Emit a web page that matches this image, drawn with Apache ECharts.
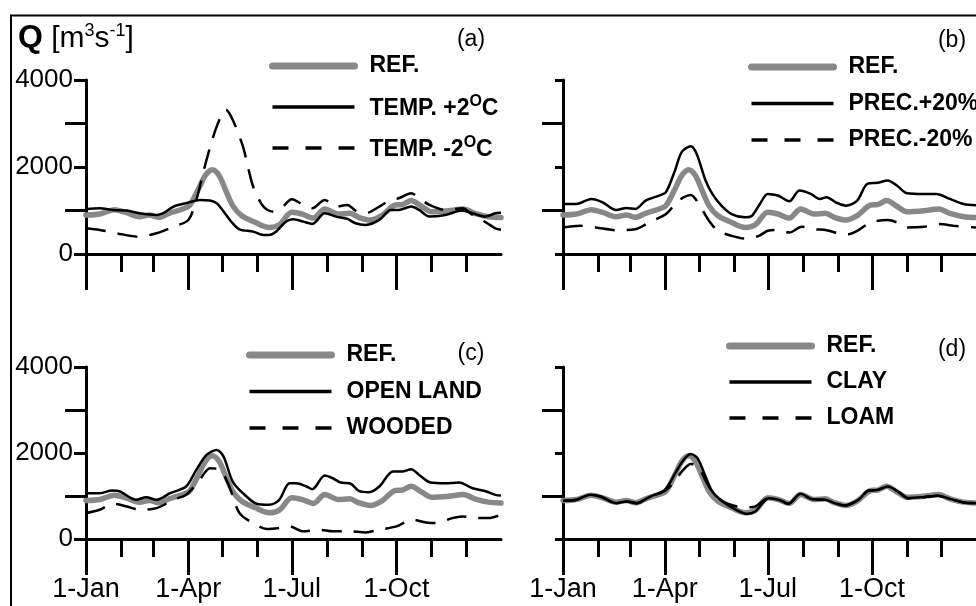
<!DOCTYPE html>
<html><head><meta charset="utf-8">
<script src="https://cdn.jsdelivr.net/npm/echarts@6/dist/echarts.min.js"></script>
<style>html,body{margin:0;padding:0;background:#fff}#c{width:976px;height:606px}</style>
</head><body><div id="c"></div>
<script>
// ---- axis ticks / labels ----
const monthDays = [0,31,59,90,120,151,181,212,243,273,304,334];
const quarterDays = [0,90,181,273];
const quarterLabels = ['1-Jan','1-Apr','1-Jul','1-Oct'];
const yMinorTicks = [1000,3000];
const panelLabels = ['(a)','(b)','(c)','(d)'];

// ---- series [day of year, Q m3/s] ----
const refQ = [[0,896],[12,919],[25,1019],[35,957],[47,857],[56,896],[64,842],[73,934],[85,1035],[91,1112],[99,1498],[105,1807],[111,1938],[117,1807],[123,1459],[129,1112],[137,880],[149,726],[161,610],[170,672],[181,957],[190,919],[200,826],[210,1035],[222,919],[232,934],[240,842],[250,780],[260,880],[272,1127],[278,1135],[286,1228],[295,1097],[304,973],[319,996],[332,1035],[342,934],[354,857],[365,840]];
const tempPlus2 = [[0,1029],[12,1052],[24,1013],[36,998],[47,937],[62,898],[68,937],[77,1090],[88,1167],[100,1244],[109,1228],[115,1167],[120,1013],[129,706],[135,568],[147,514],[156,438],[161,438],[167,514],[176,745],[182,798],[191,745],[199,691],[210,937],[220,860],[230,806],[237,706],[246,668],[258,783],[268,1013],[275,1013],[286,1090],[293,1013],[302,860],[316,898],[331,998],[340,937],[351,860],[360,937],[365,950]];
const tempMinus2 = [[0,591],[12,553],[27,476],[46,399],[62,476],[77,630],[90,783],[97,1244],[106,2165],[115,2933],[123,3317],[129,3086],[138,2472],[147,1551],[156,1090],[164,975],[173,1090],[181,1259],[191,1129],[199,1052],[210,1244],[220,1090],[230,1129],[237,998],[246,937],[258,1090],[268,1244],[275,1282],[286,1397],[293,1282],[302,1129],[316,1013],[331,1052],[340,898],[352,722],[360,591],[365,560]];
const precPlus20 = [[0,1150],[12,1150],[25,1266],[35,1189],[47,1012],[56,1058],[64,1035],[73,1228],[85,1344],[91,1421],[99,1923],[105,2347],[113,2479],[118,2309],[126,1691],[132,1382],[140,1112],[149,919],[161,842],[167,880],[174,1150],[181,1382],[190,1344],[200,1212],[209,1459],[219,1382],[227,1266],[233,1305],[241,1189],[250,1112],[260,1228],[269,1614],[278,1637],[287,1691],[295,1575],[304,1398],[319,1382],[330,1382],[342,1266],[354,1150],[365,1120]];
const precMinus20 = [[0,610],[15,649],[29,610],[47,548],[64,571],[76,726],[91,919],[102,1228],[113,1359],[120,1151],[129,764],[137,533],[149,417],[161,355],[173,417],[181,533],[190,556],[200,494],[211,625],[222,571],[233,548],[243,479],[252,456],[260,533],[272,726],[287,780],[295,726],[304,610],[319,625],[333,687],[345,649],[365,610]];
const openLand = [[0,1066],[12,1066],[23,1127],[30,1104],[44,911],[53,973],[62,911],[74,1066],[88,1220],[97,1606],[106,1954],[115,2069],[121,1915],[129,1336],[138,1066],[150,819],[161,795],[170,911],[179,1297],[185,1297],[194,1220],[199,1158],[210,1475],[217,1413],[224,1313],[232,1297],[240,1120],[249,1089],[258,1220],[270,1568],[278,1568],[286,1622],[293,1490],[303,1313],[316,1297],[328,1313],[340,1181],[352,1104],[360,1027],[365,1010]];
const wooded = [[0,602],[12,680],[24,819],[36,757],[47,680],[62,718],[77,911],[88,1027],[100,1375],[109,1645],[118,1606],[126,1220],[135,602],[147,371],[159,232],[170,255],[179,293],[191,178],[205,216],[217,178],[232,178],[246,154],[258,216],[273,293],[287,448],[299,386],[308,371],[322,486],[331,525],[343,486],[354,486],[365,564]];
const clay = [[0,888],[12,911],[24,1027],[33,988],[47,834],[56,873],[65,834],[77,988],[90,1143],[100,1568],[107,1853],[113,1977],[119,1876],[126,1452],[132,1104],[141,873],[153,680],[163,587],[170,641],[182,950],[191,911],[199,819],[210,1050],[220,927],[232,911],[240,834],[249,780],[261,911],[270,1127],[278,1143],[287,1220],[296,1104],[305,950],[319,973],[331,1004],[343,927],[354,849],[365,834]];
const loam = [[0,888],[12,911],[24,1027],[33,988],[47,834],[56,873],[65,834],[77,988],[90,1120],[98,1320],[106,1600],[113,1745],[119,1700],[126,1360],[132,1100],[141,880],[153,760],[163,740],[170,760],[182,950],[191,911],[199,819],[210,1050],[220,927],[232,911],[240,834],[249,780],[261,911],[270,1127],[278,1143],[287,1220],[296,1104],[305,950],[319,973],[331,1004],[343,927],[354,849],[365,834]];

const panels = [
  {names:['TEMP. +2°C','TEMP. -2°C'], data:[tempPlus2,tempMinus2]},
  {names:['PREC.+20%','PREC.-20%'], data:[precPlus20,precMinus20]},
  {names:['OPEN LAND','WOODED'], data:[openLand,wooded]},
  {names:['CLAY','LOAM'], data:[clay,loam]}
];

const FF = 'Arial, "Liberation Sans", sans-serif';
const grids = [
  {left:86, top:80, width:415, height:174},
  {left:563, top:80, width:415, height:174},
  {left:86, top:367, width:415, height:172},
  {left:563, top:367, width:415, height:172}
];
const legendPos = [
  {left:269, top:53, gap:15},
  {left:748, top:54, gap:10.5},
  {left:246, top:342, gap:10.5},
  {left:726, top:333, gap:10}
];
const labelPos = [[471,40],[952,41],[471,354],[952,350]];

const axLine = {color:'#000', width:3};
const xAxis = [], yAxis = [], series = [], legend = [], graphic = [];

graphic.push({type:'rect', silent:true, z:-10, shape:{x:11,y:15.5,width:1200,height:900}, style:{fill:'none', stroke:'#000', lineWidth:2}});
graphic.push({type:'text', left:18, top:22, silent:true, style:{
  text:'{q|Q}{g| }{n|[m}{s|3}{n|s}{s|-1}{n|]}',
  rich:{
    q:{fontFamily:FF, fontSize:32, fontWeight:'bold', fill:'#000', verticalAlign:'bottom'},
    g:{fontFamily:FF, fontSize:30, fill:'#000', verticalAlign:'bottom'},
    n:{fontFamily:FF, fontSize:30, fill:'#000', verticalAlign:'bottom'},
    s:{fontFamily:FF, fontSize:18, fill:'#000', verticalAlign:'top'}
  }}});

grids.forEach((g, i) => {
  const bottomRow = i >= 2, leftCol = (i % 2) === 0;
  xAxis.push({type:'value', gridIndex:i, min:0, max:365, position:'bottom',
    axisLine:{show:true, onZero:false, lineStyle:axLine},
    axisTick:{show:true, customValues:monthDays, length:18, lineStyle:axLine},
    axisLabel:{show:bottomRow, customValues:quarterDays, margin:37, fontSize:27, fontFamily:FF, color:'#000',
      formatter:v => quarterLabels[quarterDays.indexOf(v)] || ''},
    splitLine:{show:false}});
  xAxis.push({type:'value', gridIndex:i, min:0, max:365, position:'bottom',
    axisLine:{show:false, onZero:false},
    axisTick:{show:true, customValues:quarterDays, length:36, lineStyle:axLine},
    axisLabel:{show:false}, splitLine:{show:false}});
  yAxis.push({type:'value', gridIndex:i, min:0, max:4000, interval:2000, position:'left',
    axisLine:{show:true, onZero:false, lineStyle:axLine},
    axisTick:{show:true, length: leftCol ? 12 : 8, lineStyle:axLine},
    axisLabel:{show:leftCol, margin:13, fontSize:26, fontFamily:FF, color:'#000', formatter:v => String(v)},
    splitLine:{show:false}});
  yAxis.push({type:'value', gridIndex:i, min:0, max:4000, position:'left',
    axisLine:{show:false, onZero:false},
    axisTick:{show:true, customValues:yMinorTicks, length:21, lineStyle:axLine},
    axisLabel:{show:false}, splitLine:{show:false}});

  const p = panels[i];
  const common = {type:'line', xAxisIndex:2*i, yAxisIndex:2*i, symbol:'none', showSymbol:false, smooth:0.3, silent:true};
  series.push(Object.assign({}, common, {name:'REF.', data:refQ, z:2,
    itemStyle:{color:'#888888'}, lineStyle:{color:'#888888', width:5.5, cap:'round', join:'round'}}));
  series.push(Object.assign({}, common, {name:p.names[0], data:p.data[0], z:3,
    itemStyle:{color:'#000'}, lineStyle:{color:'#000', width:2.5}}));
  series.push(Object.assign({}, common, {name:p.names[1], data:p.data[1], z:3,
    itemStyle:{color:'#000'}, lineStyle:{color:'#000', width:2.5, type:[20,12]}}));

  const lp = legendPos[i];
  legend.push({orient:'vertical', left:lp.left, top:lp.top, padding:0, itemWidth:82, itemHeight:30, itemGap:lp.gap,
    selectedMode:false, itemStyle:{opacity:0},
    textStyle:{fontFamily:FF, fontSize:23, fontWeight:'bold', color:'#000', lineHeight:26, padding:[0,0,0,10],
      rich:{s:{fontFamily:FF, fontSize:16, fontWeight:'bold', color:'#000', lineHeight:16, verticalAlign:'top'},
            b:{fontFamily:FF, fontSize:23, fontWeight:'bold', color:'#000', lineHeight:26, verticalAlign:'bottom'}}},
    formatter:n => n.indexOf('°C') >= 0 ? '{b|' + n.replace('°C','') + '}{s|O}{b|C}' : n,
    data:[
      {name:'REF.', lineStyle:{width:7, cap:'round', color:'#888888'}},
      {name:p.names[0], lineStyle:{width:3.5, color:'#000'}},
      {name:p.names[1], lineStyle:{width:3.5, color:'#000', type:[16,17]}}
    ]});

  graphic.push({type:'text', x:labelPos[i][0], y:labelPos[i][1], silent:true,
    style:{text:panelLabels[i], fontFamily:FF, fontSize:23, fill:'#000', align:'center', verticalAlign:'middle'}});
});

const chart = echarts.init(document.getElementById('c'), null, {renderer:'canvas'});
chart.setOption({animation:false, backgroundColor:'#fff', grid:grids, xAxis, yAxis, series, legend, graphic});
</script></body></html>
